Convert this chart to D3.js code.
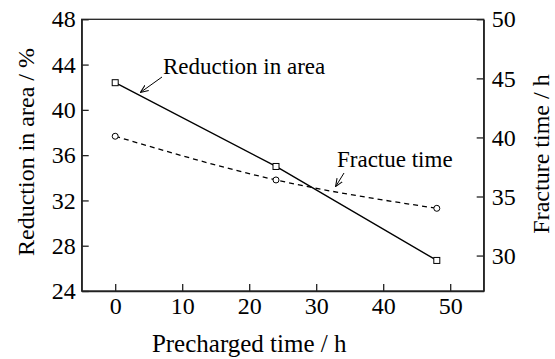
<!DOCTYPE html>
<html>
<head>
<meta charset="utf-8">
<script src="https://cdn.jsdelivr.net/npm/d3@7"></script>
</head>
<body style="margin:0">
<script>
// data
const precharged = [0, 24, 48];
const reductionArea = [42.4, 35.0, 26.7];
const fractureTime = [40.1, 36.4, 34.0];
const xTicks = [0, 10, 20, 30, 40, 50];
const leftTicks = [24, 28, 32, 36, 40, 44, 48];
const rightTicks = [30, 35, 40, 45, 50];

const width = 555;
const height = 359;
const margins = { top: 19.3, right: 71.3, bottom: 68, left: 81.7 };
const innerWidth = width - margins.left - margins.right;
const innerHeight = height - margins.top - margins.bottom;
const serif = "'Liberation Serif'";

const svg = d3.select('body').append('svg')
    .attr('width', width).attr('height', height);
const g = svg.append('g').attr('transform', 'translate(' + margins.left + ',' + margins.top + ')');

const x = d3.scaleLinear().domain([-5, 55]).range([0, innerWidth]);
const yL = d3.scaleLinear().domain([24, 48]).range([innerHeight, 0]);
const yR = d3.scaleLinear().domain([27, 50]).range([innerHeight, 0]);

// frame
g.append('rect')
    .attr('width', innerWidth).attr('height', innerHeight)
    .attr('fill', 'none').attr('stroke', '#222').attr('stroke-width', 1.3);

// axes with inward ticks
const xAxis = g.append('g').attr('transform', 'translate(0,' + innerHeight + ')')
    .call(d3.axisBottom(x).tickValues(xTicks).tickSizeInner(-7).tickSizeOuter(0).tickPadding(6));
const leftAxis = g.append('g')
    .call(d3.axisLeft(yL).tickValues(leftTicks).tickSizeInner(-7).tickSizeOuter(0).tickPadding(6));
const rightAxis = g.append('g').attr('transform', 'translate(' + innerWidth + ',0)')
    .call(d3.axisRight(yR).tickValues(rightTicks).tickSizeInner(-7).tickSizeOuter(0).tickPadding(8));

[xAxis, leftAxis, rightAxis].forEach(a => {
    a.attr('font-family', null).attr('font-size', null);
    a.select('.domain').attr('stroke', '#222').attr('stroke-width', 1.3);
    a.selectAll('.tick line').attr('stroke', '#222').attr('stroke-width', 1.3);
    a.selectAll('.tick text')
        .attr('font-size', 24)
        .style('font-size', '24px')
        .style('font-family', serif)
        .attr('fill', '#000');
});

function label(sel, size) {
    return sel.attr('font-size', size).style('font-family', serif).attr('fill', '#000');
}

// axis titles
label(svg.append('text'), 25)
    .attr('x', margins.left + x(20))
    .attr('y', 352)
    .attr('text-anchor', 'middle')
    .text('Precharged time / h');

label(svg.append('text'), 24)
    .attr('transform', 'translate(34,152) rotate(-90)')
    .attr('text-anchor', 'middle')
    .text('Reduction in area / %');

label(svg.append('text'), 24)
    .attr('transform', 'translate(549,154) rotate(-90)')
    .attr('text-anchor', 'middle')
    .text('Fracture time / h');

// series
const reductionData = precharged.map((d, i) => ({ t: d, v: reductionArea[i] }));
const fractureData = precharged.map((d, i) => ({ t: d, v: fractureTime[i] }));

const lineL = d3.line().x(d => x(d.t)).y(d => yL(d.v));
const lineR = d3.line().x(d => x(d.t)).y(d => yR(d.v)).curve(d3.curveMonotoneX);

g.append('path').datum(reductionData)
    .attr('d', lineL).attr('fill', 'none').attr('stroke', '#000').attr('stroke-width', 1.4);

g.append('path').datum(fractureData)
    .attr('d', lineR).attr('fill', 'none').attr('stroke', '#000').attr('stroke-width', 1.3)
    .attr('stroke-dasharray', '5,4');

g.selectAll('.sq').data(reductionData).join('rect')
    .attr('class', 'sq')
    .attr('x', d => x(d.t) - 3).attr('y', d => yL(d.v) - 3)
    .attr('width', 6).attr('height', 6)
    .attr('fill', '#fff').attr('stroke', '#000').attr('stroke-width', 1);

g.selectAll('.ci').data(fractureData).join('circle')
    .attr('class', 'ci')
    .attr('cx', d => x(d.t)).attr('cy', d => yR(d.v)).attr('r', 3)
    .attr('fill', '#fff').attr('stroke', '#000').attr('stroke-width', 1);

// annotation arrows
svg.append('defs').append('marker')
    .attr('id', 'arr').attr('viewBox', '0 0 10 10').attr('refX', 9).attr('refY', 5)
    .attr('markerWidth', 8).attr('markerHeight', 8).attr('orient', 'auto')
    .append('path').attr('d', 'M0,1 L10,5 L0,9').attr('fill', 'none').attr('stroke', '#000').attr('stroke-width', 1.3);

label(svg.append('text'), 23).attr('x', 163).attr('y', 74).text('Reduction in area');
svg.append('line').attr('x1', 162).attr('y1', 77).attr('x2', 141).attr('y2', 92)
    .attr('stroke', '#000').attr('stroke-width', 1).attr('marker-end', 'url(#arr)');

label(svg.append('text'), 23).attr('x', 337).attr('y', 167).text('Fractue time');
svg.append('line').attr('x1', 344).attr('y1', 173).attr('x2', 336).attr('y2', 186)
    .attr('stroke', '#000').attr('stroke-width', 1).attr('marker-end', 'url(#arr)');
</script>
</body>
</html>
